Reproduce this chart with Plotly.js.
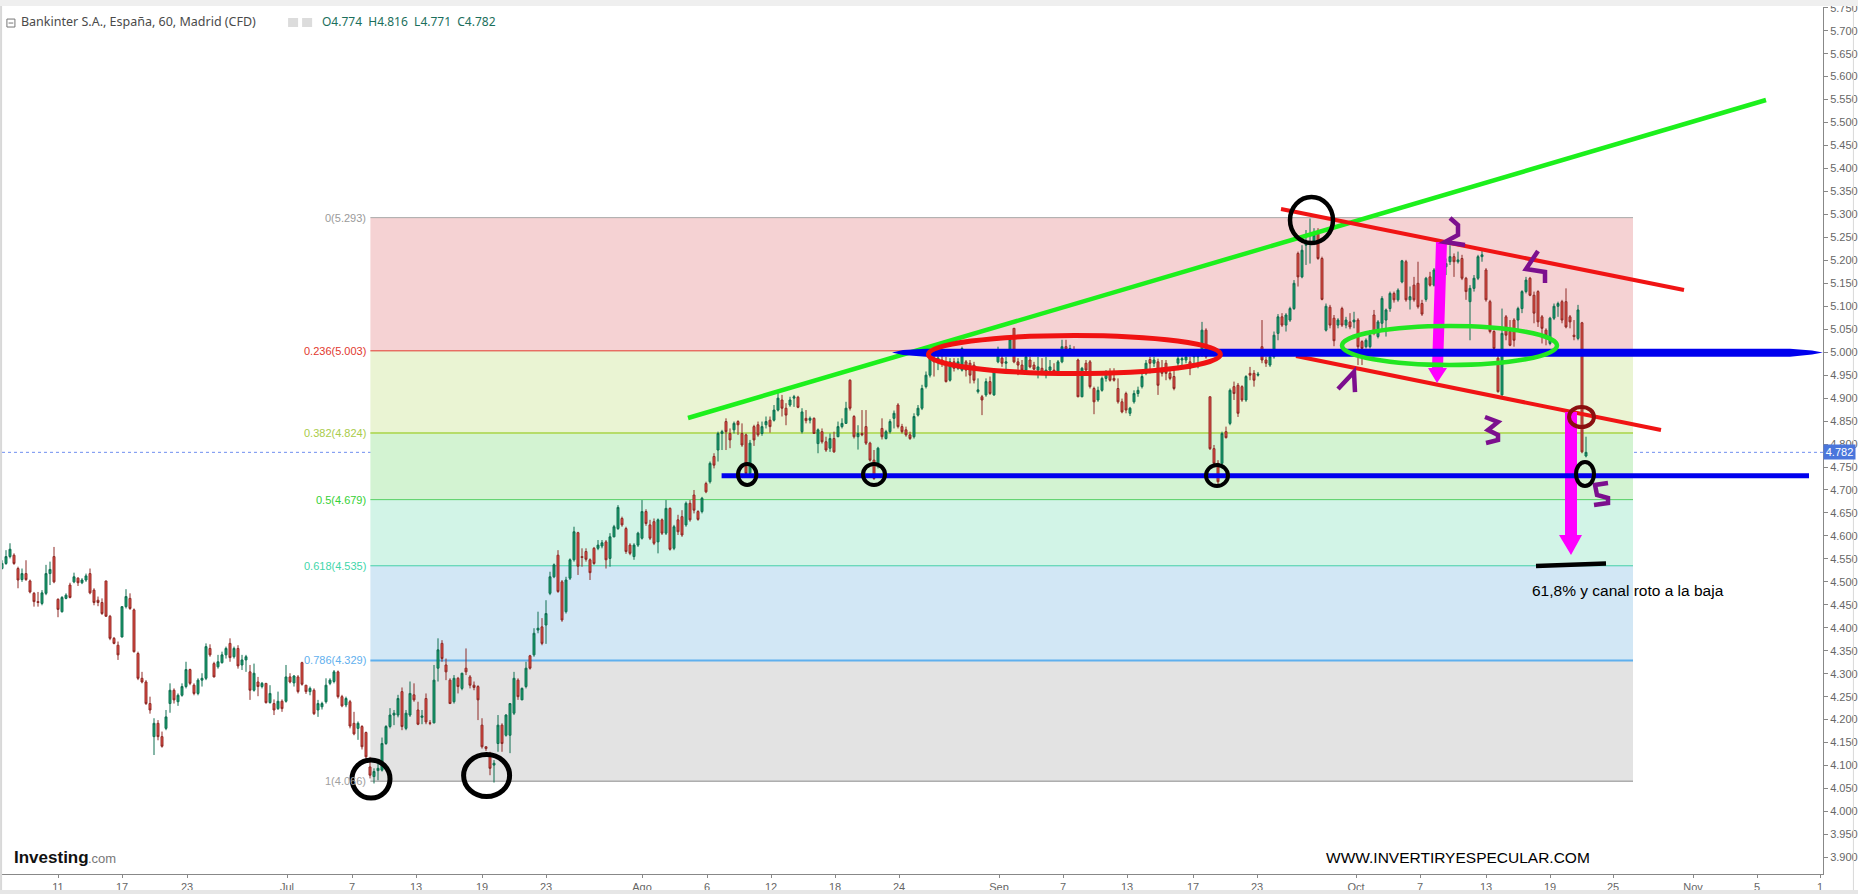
<!DOCTYPE html>
<html><head><meta charset="utf-8">
<script src="https://cdn.plot.ly/plotly-3.0.1.min.js"></script>
<style>html,body{margin:0;padding:0;background:#fff}#c{width:1858px;height:894px}</style>
</head><body><div id="c"></div>
<script>
const open=[4.529,4.540,4.555,4.558,4.529,4.505,4.518,4.502,4.475,4.457,4.453,4.475,4.518,4.555,4.462,4.435,4.464,4.493,4.500,4.508,4.498,4.504,4.518,4.482,4.460,4.455,4.502,4.425,4.377,4.362,4.380,4.446,4.464,4.439,4.344,4.290,4.282,4.235,4.163,4.192,4.163,4.181,4.235,4.264,4.239,4.253,4.272,4.309,4.275,4.257,4.286,4.290,4.355,4.322,4.315,4.324,4.341,4.366,4.337,4.355,4.319,4.330,4.304,4.264,4.282,4.272,4.279,4.237,4.235,4.224,4.240,4.240,4.293,4.280,4.293,4.324,4.275,4.261,4.264,4.221,
4.228,4.239,4.279,4.283,4.304,4.250,4.232,4.239,4.192,4.181,4.185,4.172,4.097,4.076,4.089,4.090,4.148,4.185,4.210,4.210,4.261,4.181,4.210,4.254,4.221,4.205,4.246,4.193,4.193,4.312,4.366,4.319,4.286,4.239,4.290,4.268,4.312,4.293,4.275,4.272,4.188,4.141,4.127,4.101,4.148,4.188,4.166,4.166,4.214,4.286,4.243,4.272,4.339,4.341,4.395,4.402,4.406,
4.475,4.511,4.558,4.500,4.435,4.508,4.548,4.607,4.555,4.566,4.548,4.573,4.573,4.578,4.587,4.551,4.598,4.616,4.638,4.616,4.580,4.555,4.580,4.595,4.653,4.624,4.631,4.587,4.635,4.606,4.660,4.573,4.635,4.642,4.624,4.671,4.689,4.653,4.653,4.714,4.718,4.773,4.787,4.823,4.849,4.823,4.831,4.849,4.823,4.820,4.736,4.838,4.842,4.823,4.842,4.852,
4.852,4.874,4.896,4.878,4.885,4.900,4.902,4.827,4.856,4.852,4.856,4.801,4.827,4.805,4.791,4.812,4.816,4.838,4.845,4.939,4.860,4.816,4.823,4.838,4.802,4.765,4.758,4.834,4.812,4.827,4.856,4.885,4.838,4.831,4.820,4.816,4.863,4.878,4.925,4.950,4.987,4.979,4.983,4.976,4.939,4.979,4.965,4.961,4.979,4.976,4.972,4.914,4.903,4.907,4.936,4.907,4.979,4.987,4.976,5.005,5.052,4.979,4.972,4.961,4.983,4.972,4.961,4.965,4.950,4.961,4.961,4.958,4.979,5.012,5.005,5.005,
4.983,4.903,4.976,4.979,4.921,4.896,4.917,4.943,4.957,4.943,4.921,4.892,4.910,4.867,4.892,4.910,4.925,4.954,4.984,4.976,4.979,4.961,4.976,4.954,4.947,4.976,4.983,4.983,4.979,4.990,4.990,4.994,5.048,4.903,4.790,4.758,4.758,4.827,4.845,4.925,4.928,4.925,4.896,4.954,4.954,4.950,5.012,4.983,4.972,4.990,5.041,5.077,5.059,5.070,5.095,5.215,5.164,5.233,5.237,5.237,5.262,5.204,
5.048,5.098,5.074,5.059,5.095,5.059,5.066,5.066,5.070,5.023,5.012,5.012,5.081,5.034,5.063,5.070,5.095,5.128,5.114,5.153,5.197,5.114,5.146,5.150,5.106,5.115,5.164,5.146,5.179,5.190,5.186,5.197,5.208,5.197,5.204,5.161,5.110,5.139,5.161,5.208,5.179,5.110,5.045,4.987,4.907,5.077,5.045,5.070,5.070,5.095,5.132,5.161,5.124,5.132,5.077,5.048,5.019,5.074,5.100,5.110,5.110,5.077,5.037,5.030,5.064,4.774];
const high=[4.547,4.569,4.584,4.562,4.533,4.529,4.547,4.505,4.478,4.478,4.482,4.537,4.544,4.576,4.464,4.469,4.475,4.498,4.520,4.510,4.508,4.518,4.529,4.486,4.468,4.464,4.502,4.428,4.380,4.370,4.447,4.484,4.475,4.442,4.348,4.304,4.286,4.250,4.203,4.199,4.174,4.221,4.279,4.268,4.257,4.279,4.326,4.311,4.279,4.290,4.301,4.366,4.364,4.326,4.341,4.348,4.359,4.377,4.359,4.362,4.341,4.341,4.319,4.322,4.293,4.282,4.279,4.275,4.244,4.261,4.244,4.319,4.301,4.297,4.297,4.326,4.275,4.272,4.268,4.243,
4.239,4.290,4.290,4.308,4.307,4.254,4.250,4.243,4.217,4.196,4.188,4.174,4.119,4.094,4.105,4.161,4.188,4.225,4.221,4.254,4.270,4.221,4.283,4.279,4.239,4.221,4.257,4.199,4.319,4.377,4.373,4.333,4.290,4.297,4.293,4.302,4.355,4.297,4.283,4.275,4.203,4.141,4.130,4.112,4.210,4.192,4.212,4.235,4.304,4.290,4.270,4.326,4.341,4.399,4.435,4.421,4.460,
4.522,4.540,4.569,4.504,4.511,4.551,4.620,4.609,4.573,4.573,4.551,4.576,4.591,4.591,4.591,4.606,4.624,4.667,4.642,4.620,4.584,4.584,4.609,4.678,4.658,4.635,4.638,4.638,4.638,4.678,4.662,4.624,4.646,4.656,4.675,4.678,4.700,4.656,4.685,4.718,4.762,4.780,4.827,4.831,4.856,4.834,4.849,4.852,4.845,4.823,4.809,4.842,4.849,4.849,4.860,4.860,
4.885,4.911,4.907,4.889,4.903,4.907,4.905,4.878,4.874,4.860,4.858,4.834,4.834,4.816,4.823,4.827,4.849,4.856,4.892,4.941,4.863,4.841,4.874,4.874,4.805,4.787,4.794,4.856,4.831,4.854,4.873,4.889,4.844,4.838,4.827,4.867,4.885,4.929,4.958,5.001,4.998,5.001,4.998,4.990,4.987,4.987,4.987,5.012,4.983,4.983,4.979,4.943,4.907,4.943,4.947,4.965,5.012,4.998,4.990,5.034,5.052,4.987,4.983,4.998,4.990,4.979,4.990,4.987,4.990,4.983,4.976,4.983,5.027,5.027,5.016,5.013,
4.986,4.968,4.983,4.983,4.925,4.925,4.947,4.961,4.965,4.965,4.943,4.899,4.914,4.881,4.917,4.925,4.954,4.983,4.990,4.990,4.986,4.983,4.983,4.968,4.965,4.994,4.990,4.997,4.990,5.001,5.001,5.066,5.052,4.903,4.798,4.765,4.827,4.838,4.921,4.936,4.933,4.928,4.950,4.968,4.961,4.957,5.070,4.990,4.994,5.045,5.083,5.085,5.085,5.099,5.157,5.219,5.233,5.266,5.291,5.270,5.270,5.208,
5.106,5.103,5.081,5.074,5.099,5.077,5.085,5.088,5.074,5.026,5.030,5.048,5.092,5.070,5.122,5.095,5.132,5.132,5.139,5.201,5.201,5.143,5.164,5.197,5.114,5.164,5.175,5.183,5.193,5.208,5.204,5.233,5.215,5.219,5.212,5.164,5.146,5.168,5.212,5.226,5.183,5.114,5.048,4.997,5.095,5.081,5.070,5.074,5.099,5.135,5.164,5.164,5.132,5.135,5.081,5.052,5.077,5.106,5.110,5.114,5.139,5.081,5.070,5.103,5.066,4.816];
const low=[4.527,4.537,4.551,4.537,4.486,4.500,4.502,4.475,4.446,4.446,4.449,4.471,4.493,4.497,4.423,4.433,4.462,4.464,4.497,4.491,4.495,4.500,4.473,4.449,4.447,4.428,4.424,4.373,4.364,4.330,4.379,4.442,4.439,4.346,4.286,4.279,4.232,4.213,4.123,4.155,4.139,4.177,4.215,4.235,4.230,4.250,4.268,4.275,4.253,4.253,4.272,4.286,4.337,4.292,4.311,4.322,4.333,4.326,4.333,4.311,4.308,4.304,4.243,4.261,4.251,4.268,4.235,4.235,4.210,4.221,4.217,4.237,4.279,4.272,4.257,4.274,4.256,4.253,4.210,4.206,
4.222,4.235,4.275,4.279,4.246,4.227,4.227,4.181,4.166,4.156,4.135,4.112,4.072,4.061,4.068,4.087,4.145,4.181,4.188,4.205,4.177,4.177,4.206,4.239,4.188,4.190,4.190,4.188,4.192,4.283,4.326,4.286,4.234,4.235,4.257,4.264,4.297,4.268,4.264,4.199,4.137,4.132,4.079,4.063,4.130,4.130,4.163,4.127,4.210,4.243,4.243,4.268,4.309,4.337,4.388,4.362,4.365,
4.471,4.508,4.476,4.413,4.431,4.504,4.544,4.515,4.533,4.544,4.504,4.537,4.569,4.573,4.529,4.533,4.597,4.613,4.620,4.561,4.558,4.548,4.576,4.592,4.622,4.591,4.580,4.562,4.602,4.602,4.568,4.569,4.602,4.598,4.620,4.631,4.649,4.633,4.649,4.693,4.714,4.747,4.762,4.787,4.787,4.791,4.823,4.820,4.794,4.733,4.733,4.796,4.816,4.818,4.834,4.825,
4.849,4.871,4.860,4.841,4.881,4.881,4.878,4.823,4.845,4.845,4.822,4.780,4.801,4.783,4.783,4.781,4.815,4.834,4.844,4.873,4.812,4.788,4.817,4.798,4.762,4.722,4.747,4.810,4.810,4.823,4.834,4.834,4.823,4.816,4.809,4.812,4.860,4.874,4.921,4.945,4.947,4.961,4.968,4.934,4.936,4.958,4.961,4.958,4.947,4.932,4.932,4.910,4.863,4.903,4.907,4.905,4.976,4.968,4.961,5.001,4.976,4.950,4.958,4.958,4.965,4.961,4.943,4.950,4.943,4.950,4.954,4.950,4.976,4.994,4.998,4.994,
4.902,4.902,4.957,4.921,4.865,4.892,4.914,4.936,4.936,4.936,4.888,4.867,4.867,4.861,4.888,4.903,4.921,4.950,4.954,4.968,4.907,4.947,4.939,4.939,4.917,4.961,4.972,4.976,4.950,4.976,4.965,4.990,4.986,4.787,4.754,4.707,4.754,4.812,4.841,4.896,4.859,4.892,4.892,4.939,4.925,4.947,4.976,4.968,4.968,4.986,5.026,5.055,5.045,5.066,5.092,5.143,5.161,5.190,5.193,5.233,5.201,5.113,
5.045,5.052,5.013,5.052,5.055,5.052,5.050,5.052,4.972,4.972,5.008,5.008,5.037,5.030,5.048,5.034,5.088,5.108,5.110,5.150,5.110,5.093,5.110,5.095,5.079,5.110,5.143,5.143,5.172,5.179,5.168,5.190,5.164,5.193,5.157,5.114,5.026,5.132,5.157,5.197,5.110,5.041,5.005,4.912,4.905,5.026,5.013,5.012,5.048,5.085,5.128,5.122,5.063,5.055,5.019,5.015,5.015,5.070,5.077,5.063,5.052,5.052,5.026,5.026,4.780,4.771];
const close=[4.540,4.555,4.571,4.540,4.504,4.518,4.505,4.478,4.457,4.455,4.476,4.518,4.527,4.500,4.440,4.466,4.471,4.466,4.511,4.498,4.504,4.513,4.476,4.455,4.455,4.431,4.425,4.377,4.366,4.341,4.446,4.468,4.442,4.348,4.290,4.282,4.235,4.221,4.192,4.163,4.142,4.206,4.264,4.243,4.253,4.272,4.309,4.279,4.257,4.286,4.290,4.359,4.341,4.293,4.326,4.341,4.355,4.335,4.355,4.317,4.330,4.337,4.264,4.301,4.272,4.279,4.237,4.257,4.221,4.240,4.224,4.293,4.282,4.295,4.261,4.277,4.261,4.268,4.213,4.235,
4.235,4.275,4.286,4.304,4.250,4.230,4.246,4.186,4.169,4.192,4.141,4.119,4.079,4.087,4.094,4.148,4.185,4.210,4.214,4.246,4.185,4.214,4.257,4.243,4.190,4.208,4.195,4.192,4.286,4.352,4.333,4.304,4.235,4.290,4.272,4.301,4.304,4.275,4.270,4.243,4.141,4.137,4.094,4.105,4.188,4.148,4.210,4.235,4.290,4.250,4.268,4.312,4.312,4.388,4.399,4.366,4.431,
4.511,4.537,4.479,4.417,4.504,4.548,4.609,4.534,4.553,4.549,4.520,4.540,4.580,4.585,4.548,4.598,4.620,4.662,4.624,4.566,4.562,4.580,4.606,4.653,4.627,4.595,4.584,4.635,4.606,4.660,4.571,4.620,4.609,4.602,4.671,4.635,4.656,4.636,4.682,4.696,4.758,4.754,4.823,4.827,4.827,4.809,4.845,4.842,4.798,4.736,4.802,4.809,4.820,4.838,4.849,4.838,
4.874,4.900,4.878,4.863,4.896,4.903,4.880,4.870,4.851,4.856,4.823,4.831,4.805,4.787,4.812,4.783,4.838,4.845,4.878,4.878,4.816,4.823,4.820,4.802,4.765,4.725,4.791,4.816,4.827,4.849,4.867,4.838,4.827,4.820,4.812,4.860,4.878,4.921,4.950,4.987,4.979,4.987,4.976,4.936,4.979,4.965,4.979,5.008,4.961,4.950,4.939,4.918,4.896,4.936,4.910,4.961,4.994,4.976,4.979,5.028,4.979,4.972,4.961,4.990,4.968,4.963,4.968,4.954,4.961,4.968,4.958,4.979,5.012,5.005,5.008,5.001,
4.903,4.965,4.961,4.925,4.892,4.917,4.943,4.957,4.939,4.939,4.892,4.870,4.874,4.878,4.910,4.917,4.947,4.976,4.976,4.983,4.928,4.954,4.954,4.943,4.921,4.986,4.986,4.990,4.965,4.994,4.996,5.048,4.990,4.790,4.758,4.718,4.823,4.814,4.917,4.910,4.867,4.896,4.947,4.950,4.939,4.952,4.983,4.976,4.990,5.037,5.077,5.059,5.081,5.095,5.150,5.164,5.222,5.237,5.241,5.255,5.204,5.115,
5.100,5.059,5.025,5.070,5.059,5.070,5.055,5.070,5.012,5.008,5.026,5.037,5.041,5.066,5.117,5.092,5.128,5.114,5.135,5.199,5.114,5.121,5.114,5.099,5.083,5.161,5.146,5.179,5.190,5.201,5.193,5.208,5.197,5.201,5.161,5.132,5.139,5.161,5.208,5.212,5.114,5.045,5.008,4.914,5.041,5.037,5.015,5.026,5.095,5.132,5.157,5.124,5.085,5.066,5.052,5.037,5.074,5.100,5.106,5.070,5.055,5.066,5.034,5.092,4.783,4.782];

const tickVals=[14,30,46.25,71.25,87.5,103.5,120,136,160,176.25,192.25,208.25,224.25,249.25,265.25,281.25,297.75,313.75,338.5,354.5,371,387,402.75,422.75,438.75,454.5];
const tickLabels=['11','17','23','Jul','7','13','19','23','Ago','6','12','18','24','Sep','7','13','17','23','Oct','7','13','19','25','Nov','5','1'];

const fibLevels=[5.293,5.003,4.824,4.679,4.535,4.329,4.066];
const fibNames=['0(5.293)','0.236(5.003)','0.382(4.824)','0.5(4.679)','0.618(4.535)','0.786(4.329)','1(4.066)'];
const fibLineColors=['#a8a8a8','#e2382e','#b6dc6a','#55cf64','#43cfa8','#5fb0ee','#8a8a8a'];
const fibFillColors=['#f5d2d3','#eaf4d3','#d3f3d2','#d2f4e7','#d2e7f5','#e3e3e3'];
const fibTextColors=['#9a9a9a','#e2382e','#a9cc4a','#35d135','#3fd6aa','#5fb0ee','#a0a0a0'];
const fibStart=92.1, fibEnd=407.75;
const lastPrice=4.782;

const greenLine=[[171.5,4.8567],[441,5.5491]];
const redUpper=[[319.75,5.3118],[420.5,5.1354]];
const redLower=[[323.5,4.9917],[414.75,4.8306]];
const blueLower=[[179.9,4.7311],[451.75,4.7311]];
const blueUpper=[[222.5,4.9993],[225.25,5.0048],[231,5.0074],[447,5.0074],[452.5,5.0037],[455.2,4.9993],[452.5,4.9950],[447,4.9900],[231,4.9900],[225.25,4.9939]];
const smudge=[[383.5,4.5345],[401,4.5400]];
const arrowOne=[[358.5,5.2399],[361.25,5.2399],[360.25,4.9656],[361.25,4.9656],[358.75,4.9329],[356.5,4.9656],[357.5,4.9656]];
const arrowTwo=[[390.75,4.8698],[393.75,4.8698],[393.75,4.6020],[395,4.6020],[392.25,4.5585],[389.25,4.6020],[390.75,4.6020]];
const digits=[
 [[334,4.9199],[338,4.9569],[338.25,4.9133]],
 [[362,5.2922],[364,5.2769],[364,5.2552],[360.75,5.2399],[365.75,5.2334]],
 [[370.75,4.8589],[374,4.8480],[371.5,4.8306],[374,4.8197],[374,4.8088],[371,4.8023]],
 [[384,5.2203],[381,5.1811],[385.75,5.1746],[385.75,5.1507]],
 [[401.5,4.7152],[398.25,4.7109],[398.75,4.6891],[401.5,4.6826],[401.5,4.6717],[398,4.6673]]
];
// x0, x1, y0, y1, colour, stroke
const rings=[
 [231.6,304.6,5.0364,4.9536,'#f01212',5],
 [335,388.75,5.0570,4.9721,'#22e622',4.5],
 [87.5,97,4.1122,4.0294,'#000',5],
 [115.4,126.9,4.1241,4.0327,'#000',5],
 [184,188.6,4.7566,4.7109,'#000',4],
 [215.25,220.75,4.7566,4.7109,'#000',4],
 [301,306.5,4.7544,4.7087,'#000',4],
 [322,332.75,5.3379,5.2377,'#000',4.5],
 [393.5,398,4.7609,4.7087,'#000',4],
 [391.75,398,4.8807,4.8371,'#8b0f0f',4]
];

const barIndex=open.map((_,i)=>i);
const toPath=(pts,closed)=>'M '+pts.map(p=>p[0]+','+p[1]).join(' L ')+(closed?' Z':'');
const seg=(pts,color,w)=>({type:'line',xref:'x',yref:'y',x0:pts[0][0],y0:pts[0][1],x1:pts[1][0],y1:pts[1][1],line:{color:color,width:w}});
const poly=(pts,color)=>({type:'path',xref:'x',yref:'y',path:toPath(pts,true),fillcolor:color,line:{width:0}});

const shapes=[];
fibFillColors.forEach((c,i)=>shapes.push({type:'rect',layer:'below',xref:'x',yref:'y',x0:fibStart,x1:fibEnd,y0:fibLevels[i],y1:fibLevels[i+1],fillcolor:c,line:{width:0}}));
fibLevels.forEach((v,i)=>shapes.push({type:'line',layer:'below',xref:'x',yref:'y',x0:fibStart,x1:fibEnd,y0:v,y1:v,line:{color:fibLineColors[i],width:(i==2||i==5)?2:1}}));
shapes.push({type:'line',layer:'below',xref:'paper',yref:'y',x0:0,x1:1,y0:lastPrice,y1:lastPrice,line:{color:'#6f8ff0',width:1,dash:'dot'}});
// window chrome
shapes.push({type:'rect',xref:'paper',yref:'paper',x0:-0.0011,x1:1.02,y0:1.00115,y1:1.0081,fillcolor:'#efefef',line:{width:0}});
shapes.push({type:'rect',xref:'paper',yref:'paper',x0:-0.0011,x1:1.02,y0:-0.0231,y1:-0.0185,fillcolor:'#e6e6e6',line:{width:0}});
shapes.push({type:'line',xref:'paper',yref:'paper',x0:1.0167,x1:1.0167,y0:-0.0185,y1:1.0011,line:{color:'#d8d8d8',width:1}});
shapes.push({type:'line',xref:'paper',yref:'paper',x0:-0.0005,x1:-0.0005,y0:-0.0185,y1:1.0011,line:{color:'#d8d8d8',width:2}});
// hand-drawn marks, back to front
shapes.push(seg(greenLine,'#1cf01c',4.5));
shapes.push(seg(redUpper,'#f01414',4));
shapes.push(seg(redLower,'#f01414',4));
shapes.push(poly(arrowOne,'#ff00ff'));
shapes.push(poly(arrowTwo,'#ff00ff'));
shapes.push(poly(blueUpper,'#0000ee'));
shapes.push(seg(blueLower,'#0000ee',5));
shapes.push(seg(smudge,'#000',4.5));
digits.forEach(d=>shapes.push({type:'path',xref:'x',yref:'y',path:toPath(d,false),line:{color:'#7c0f8e',width:4.5}}));
rings.forEach(r=>shapes.push({type:'circle',xref:'x',yref:'y',x0:r[0],x1:r[1],y0:r[2],y1:r[3],line:{color:r[4],width:r[5]}}));
// legend icons
shapes.push({type:'rect',xref:'paper',yref:'paper',x0:0.0027,x1:0.0071,y0:0.9769,y1:0.9861,line:{color:'#777',width:1}});
shapes.push({type:'line',xref:'paper',yref:'paper',x0:0.0036,x1:0.0062,y0:0.9815,y1:0.9815,line:{color:'#777',width:1}});
shapes.push({type:'rect',xref:'paper',yref:'paper',x0:0.1571,x1:0.1626,y0:0.9769,y1:0.9873,fillcolor:'#dcdcdc',line:{width:0}});
shapes.push({type:'rect',xref:'paper',yref:'paper',x0:0.1648,x1:0.1703,y0:0.9769,y1:0.9873,fillcolor:'#dcdcdc',line:{width:0}});

const sans='"Liberation Sans",Arial,sans-serif';
const annotations=fibNames.map((t,i)=>({xref:'x',yref:'y',x:91.4,y:fibLevels[i],text:t,showarrow:false,xanchor:'right',yanchor:'middle',font:{family:sans,size:11,color:fibTextColors[i]}}));
annotations.push({xref:'paper',yref:'paper',x:0.1746,y:0.9827,text:'O4.774&nbsp;&nbsp;H4.816&nbsp;&nbsp;L4.771&nbsp;&nbsp;C4.782',showarrow:false,xanchor:'left',yanchor:'middle',font:{family:'"Noto Sans",sans-serif',size:12,color:'#1b6f5c'}});
annotations.push({xref:'paper',yref:'y',x:1,y:lastPrice,text:'4.782',showarrow:false,xanchor:'left',yanchor:'middle',width:31,height:14,borderpad:0,bgcolor:'#4a76dc',font:{family:sans,size:11,color:'#fff'}});
annotations.push({xref:'x',yref:'y',x:382,y:4.4813,text:'61,8% y canal roto a la baja',showarrow:false,xanchor:'left',yanchor:'middle',font:{family:sans,size:15.5,color:'#000'}});
annotations.push({xref:'x',yref:'y',x:330.5,y:3.9,text:'WWW.INVERTIRYESPECULAR.COM',showarrow:false,xanchor:'left',yanchor:'middle',font:{family:sans,size:15.5,color:'#000'}});
annotations.push({xref:'x',yref:'y',x:2.5,y:3.9,text:'<b>Investing</b>',showarrow:false,xanchor:'left',yanchor:'middle',font:{family:sans,size:17,color:'#111'}});
annotations.push({xref:'x',yref:'y',x:21,y:3.897,text:'.com',showarrow:false,xanchor:'left',yanchor:'middle',font:{family:sans,size:13,color:'#777'}});

const layout={
 width:1858,height:894,autosize:false,
 paper_bgcolor:'#fff',plot_bgcolor:'#fff',showlegend:false,dragmode:false,
 margin:{l:2,r:35,t:7,b:20,pad:0},
 title:{text:'Bankinter S.A., España, 60, Madrid (CFD)',x:0.0113,y:0.9754,xref:'container',yref:'container',xanchor:'left',yanchor:'middle',font:{family:'"Noto Sans",sans-serif',size:12.5,color:'#4a4a4a'}},
 xaxis:{type:'linear',range:[0,455.25],rangeslider:{visible:false},tickmode:'array',tickvals:tickVals,ticktext:tickLabels,ticks:'outside',ticklen:3,tickcolor:'#888',showgrid:false,zeroline:false,showline:true,linecolor:'#888',linewidth:1,tickfont:{family:sans,size:11,color:'#666'},fixedrange:true},
 yaxis:{type:'linear',side:'right',range:[3.8639,5.7516],tick0:3.9,dtick:0.05,tickformat:'.3f',ticks:'outside',ticklen:4,tickcolor:'#888',showgrid:false,zeroline:false,showline:true,linecolor:'#888',linewidth:1,tickfont:{family:sans,size:11,color:'#666'},fixedrange:true},
 shapes:shapes,annotations:annotations
};
const trace={type:'candlestick',x:barIndex,open:open,high:high,low:low,close:close,whiskerwidth:0,hoverinfo:'skip',
 increasing:{line:{color:'#0f6e50',width:1},fillcolor:'#16a06c'},
 decreasing:{line:{color:'#8f2a26',width:1},fillcolor:'#ea4f46'}};
Plotly.newPlot('c',[trace],layout,{displayModeBar:false,staticPlot:true});
</script></body></html>
